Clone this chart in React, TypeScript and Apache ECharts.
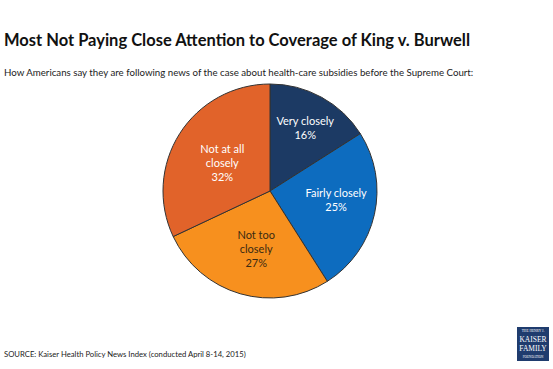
import React, { useEffect, useRef } from "react";
import * as echarts from "echarts";

const categories = ["Very closely", "Fairly closely", "Not too closely", "Not at all closely"];
const values = [16, 25, 27, 32];
const labelTexts = ["Very closely", "Fairly closely", "Not too\nclosely", "Not at all\nclosely"];
const colors = ["#1c3a64", "#0d6cbf", "#f7901e", "#e1632a"];
const labelColors = ["#ffffff", "#ffffff", "#3b2a12", "#ffffff"];
const labelShift = [
  [8, -14],
  [11, -4],
  [2, 3],
  [0, 2],
];

const titleText = "Most Not Paying Close Attention to Coverage of King v. Burwell";
const subtitleText =
  "How Americans say they are following news of the case about health-care subsidies before the Supreme Court:";
const sourceText = "SOURCE: Kaiser Health Policy News Index (conducted April 8-14, 2015)";

export default function App() {
  const ref = useRef<HTMLDivElement>(null);
  useEffect(() => {
    if (!ref.current) return;
    const chart = echarts.init(ref.current, null, { renderer: "svg" });
    const font = "Lato, 'Open Sans', sans-serif";
    chart.setOption({
      animation: false,
      backgroundColor: "#ffffff",
      title: [
        {
          text: titleText,
          left: 4,
          top: 31,
          padding: 0,
          textStyle: { fontFamily: font, fontWeight: "bold", fontSize: 16.5, color: "#111111" },
        },
        {
          text: subtitleText,
          left: 4,
          top: 67,
          padding: 0,
          textStyle: { fontFamily: font, fontWeight: "normal", fontSize: 9.7, color: "#222222" },
        },
        {
          text: sourceText,
          left: 4,
          top: 350,
          padding: 0,
          textStyle: { fontFamily: font, fontWeight: "normal", fontSize: 7.7, color: "#222222" },
        },
      ],
      series: [
        {
          type: "pie",
          center: [270, 191],
          radius: [0, 107],
          startAngle: 90,
          clockwise: true,
          itemStyle: { borderColor: "#333333", borderWidth: 1 },
          label: {
            show: true,
            position: "inside",
            fontFamily: font,
            fontSize: 11,
            lineHeight: 14,
            align: "center",
            formatter: (p: any) => `${labelTexts[p.dataIndex]}\n${p.value}%`,
          },
          labelLayout: (p: any) => ({ dx: labelShift[p.dataIndex][0], dy: labelShift[p.dataIndex][1] }),
          data: categories.map((c, i) => ({
            name: c,
            value: values[i],
            itemStyle: { color: colors[i] },
            label: { color: labelColors[i] },
          })),
        },
      ],
      graphic: [
        {
          type: "group",
          left: 517,
          top: 327,
          children: [
            { type: "rect", shape: { x: 0, y: 0, width: 32, height: 34 }, style: { fill: "#1f3c6e" } },
            {
              type: "text",
              x: 16,
              y: 4,
              style: { text: "THE HENRY J.", fill: "#ffffff", font: "3.5px 'Liberation Serif', serif", align: "center", verticalAlign: "middle" },
            },
            {
              type: "text",
              x: 16,
              y: 12,
              style: { text: "KAISER", fill: "#ffffff", font: "7.5px 'Liberation Serif', serif", align: "center", verticalAlign: "middle" },
            },
            {
              type: "text",
              x: 16,
              y: 21,
              style: { text: "FAMILY", fill: "#ffffff", font: "7.5px 'Liberation Serif', serif", align: "center", verticalAlign: "middle" },
            },
            {
              type: "text",
              x: 16,
              y: 30,
              style: { text: "FOUNDATION", fill: "#ffffff", font: "3.2px 'Liberation Serif', serif", align: "center", verticalAlign: "middle" },
            },
          ],
        },
      ],
    });
    return () => chart.dispose();
  }, []);
  return <div ref={ref} style={{ position: "absolute", left: 0, top: 0, width: 553, height: 369 }} />;
}
